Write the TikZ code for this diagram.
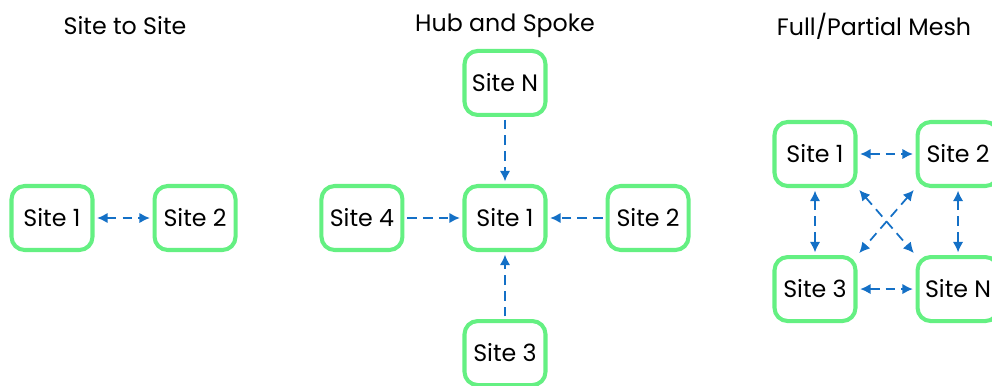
\documentclass[tikz,border=0pt]{standalone}
\usepackage{fontspec}
\setmainfont{Poppins}
\usepackage{tikz}
\usetikzlibrary{positioning, arrows.meta, shadows}
\definecolor{sitegreen}{RGB}{100,240,130}
\definecolor{linkblue}{RGB}{20,112,198}
\tikzset{
  site/.style={
    rectangle, rounded corners=7.5pt, draw=sitegreen, line width=2.3pt,
    fill=white, minimum width=1.62cm, minimum height=1.28cm,
    inner sep=2pt, font=\fontsize{13.5}{16}\selectfont,
    drop shadow={shadow xshift=0.8pt, shadow yshift=-0.8pt, opacity=0.18}
  },
  topo title/.style={font=\fontsize{13.5}{16}\selectfont},
  every edge/.style={draw=linkblue, line width=1pt,
    dash pattern=on 5.5pt off 3.5pt, >={Latex[length=6pt,width=6pt]},
    shorten >=1.5pt, shorten <=1.5pt},
}

\begin{document}
\begin{tikzpicture}[node distance=1.34cm and 1.16cm]
  \useasboundingbox (0,0) rectangle (19.84,-7.7);
  \clip (0,0) rectangle (19.84,-7.7);

  % titles
  \node[topo title] (t1) at (2.5,-0.52) {Site to Site};
  \node[topo title] (t2) at (10.1,-0.52) {Hub and Spoke};
  \node[topo title] (t3) at (17.48,-0.52) {Full/Partial Mesh};

  % site to site
  \node[site] (A1) at (1.04,-4.36) {Site 1};
  \node[site, right=of A1] (A2) {Site 2};

  % hub and spoke
  \node[site] (H1) at (10.1,-4.36) {Site 1};
  \node[site, above=of H1] (HN) {Site N};
  \node[site, left=of H1] (H4) {Site 4};
  \node[site, right=of H1] (H2) {Site 2};
  \node[site, below=of H1] (H3) {Site 3};

  % full/partial mesh
  \node[site] (M1) at (16.3,-3.08) {Site 1};
  \node[site, right=of M1] (M2) {Site 2};
  \node[site, below=of M1] (M3) {Site 3};
  \node[site, right=of M3] (MN) {Site N};

  \path (A1) edge[<->] (A2)
        (HN) edge[->] (H1)
        (H4) edge[->] (H1)
        (H2) edge[->] (H1)
        (H3) edge[->] (H1)
        (M1) edge[<->] (M2)
        (M3) edge[<->] (MN)
        (M1) edge[<->] (M3)
        (M2) edge[<->] (MN)
        (M1.south east) edge[<->] (MN.north west)
        (M2.south west) edge[<->] (M3.north east);
\end{tikzpicture}
\end{document}
